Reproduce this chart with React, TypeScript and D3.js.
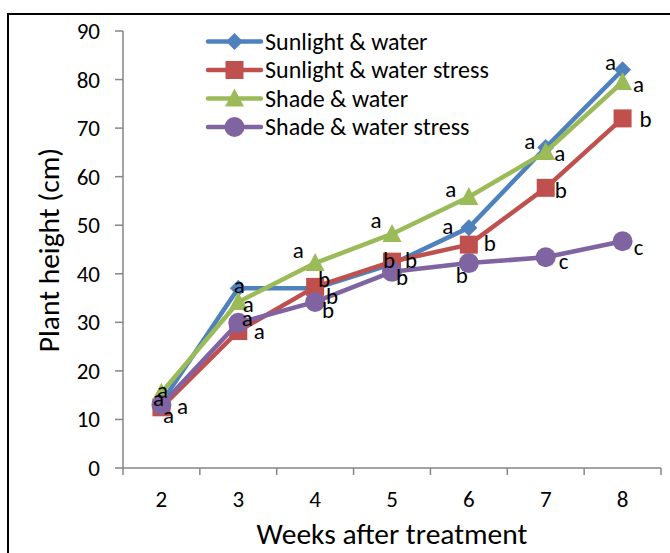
import React from 'react';
import * as d3 from 'd3';

const weeks = ['2', '3', '4', '5', '6', '7', '8'];
const yTicks = [0, 10, 20, 30, 40, 50, 60, 70, 80, 90];
const seriesNames = ['Sunlight & water', 'Sunlight & water stress', 'Shade & water', 'Shade & water stress'];
const sunlightWater = [13.5, 37, 37, 42, 49.5, 66, 82];
const sunlightStress = [12.5, 28.2, 37.3, 42.5, 46, 57.7, 72];
const shadeWater = [15.5, 34.2, 42.2, 48.2, 55.8, 65.1, 79.5];
const shadeStress = [13, 29.9, 34.2, 40.4, 42.2, 43.4, 46.7];
const sunlightWaterLetters = ['a', 'a', 'b', 'b', 'a', 'a', 'a'];
const sunlightStressLetters = ['a', 'a', 'b', 'b', 'b', 'b', 'b'];
const shadeWaterLetters = ['a', 'a', 'a', 'a', 'a', 'a', 'a'];
const shadeStressLetters = ['a', 'a', 'b', 'b', 'b', 'c', 'c'];

// label placement (styling), pixel offsets relative to the marker
const labelOffsets = [
  [[-3, -2], [1, -1], [9, -7], [19, -2], [-21, 0], [-16, -5], [-12, -6]],
  [[21, 1], [21, 2], [17, 11], [-3, 0], [21, 0], [15, 4], [23, 3]],
  [[1, -1], [10, 4], [-17, -11], [-16, -12], [-18, -6], [14, 3], [16, 4]],
  [[7, 12], [9, -3], [13, 10], [10, 7], [-7, 14], [18, 6], [16, 8]],
];

const colors = ['#4F81BD', '#C0504D', '#9BBB59', '#8064A2'];
const shapes = ['diamond', 'square', 'triangle', 'circle'];
const FONT = "Carlito, Calibri, Lato, 'Liberation Sans', sans-serif";

function Marker({ shape, x, y, color }: { shape: string; x: number; y: number; color: string }) {
  if (shape === 'diamond') {
    const h = 8.5;
    return <path d={`M${x},${y - h}L${x + h},${y}L${x},${y + h}L${x - h},${y}Z`} fill={color} />;
  }
  if (shape === 'square') {
    const h = 9;
    return <rect x={x - h} y={y - h} width={2 * h} height={2 * h} fill={color} />;
  }
  if (shape === 'triangle') {
    return <path d={`M${x},${y - 10}L${x + 9.5},${y + 8}L${x - 9.5},${y + 8}Z`} fill={color} />;
  }
  return <circle cx={x} cy={y} r={10} fill={color} />;
}

export default function App() {
  const W = 670, H = 553;
  const series = [sunlightWater, sunlightStress, shadeWater, shadeStress];
  const letters = [sunlightWaterLetters, sunlightStressLetters, shadeWaterLetters, shadeStressLetters];
  const x = d3.scaleBand<string>().domain(weeks).range([123, 661]).padding(0);
  const y = d3.scaleLinear().domain([0, 90]).range([468, 31]);
  const cx = (w: string) => (x(w) as number) + x.bandwidth() / 2;
  const line = d3.line<number>().x((_, i) => cx(weeks[i])).y((d) => y(d));
  const axisColor = '#868686';
  const boundaries = weeks.map((w) => x(w) as number).concat([661]);

  return (
    <svg width={W} height={H} style={{ position: 'absolute', left: 0, top: 0, background: '#fff' }} fontFamily={FONT}>
      <rect x={0} y={0} width={W} height={H} fill="#fff" />
      <rect x={8} y={14} width={720} height={700} fill="none" stroke="#000" strokeWidth={2} />
      {/* axes */}
      <line x1={123} x2={123} y1={y(90)} y2={y(0)} stroke={axisColor} strokeWidth={1.5} />
      <line x1={123} x2={661} y1={y(0)} y2={y(0)} stroke={axisColor} strokeWidth={1.5} />
      {yTicks.map((t) => (
        <g key={t}>
          <line x1={115} x2={123} y1={y(t)} y2={y(t)} stroke={axisColor} strokeWidth={1.5} />
          <text x={100} y={y(t) + 8} textAnchor="end" fontSize={23} fill="#000">{t}</text>
        </g>
      ))}
      {boundaries.map((b, i) => (
        <line key={i} x1={b} x2={b} y1={y(0)} y2={y(0) + 7} stroke={axisColor} strokeWidth={1.5} />
      ))}
      {weeks.map((w) => (
        <text key={w} x={cx(w)} y={507} textAnchor="middle" fontSize={23} fill="#000">{w}</text>
      ))}
      <text x={392} y={544} textAnchor="middle" fontSize={29.5} fill="#000">Weeks after treatment</text>
      <text transform={`translate(59,250) rotate(-90)`} textAnchor="middle" fontSize={29.5} fill="#000">Plant height (cm)</text>
      {/* series */}
      {series.map((s, si) => (
        <g key={si}>
          <path d={line(s) as string} fill="none" stroke={colors[si]} strokeWidth={4.5} strokeLinejoin="round" strokeLinecap="round" />
          {s.map((v, i) => (
            <Marker key={i} shape={shapes[si]} x={cx(weeks[i])} y={y(v)} color={colors[si]} />
          ))}
        </g>
      ))}
      {/* letters */}
      {series.map((s, si) =>
        s.map((v, i) => (
          <text key={`${si}-${i}`} x={cx(weeks[i]) + labelOffsets[si][i][0]} y={y(v) + labelOffsets[si][i][1] + 6}
            textAnchor="middle" fontSize={23} fill="#000">{letters[si][i]}</text>
        ))
      )}
      {/* legend */}
      {seriesNames.map((n, i) => {
        const ly = 41.5 + i * 28.5;
        return (
          <g key={n}>
            <line x1={208} x2={261} y1={ly} y2={ly} stroke={colors[i]} strokeWidth={4.5} strokeLinecap="round" />
            <Marker shape={shapes[i]} x={234.5} y={ly} color={colors[i]} />
            <text x={265} y={ly + 8} fontSize={24} fill="#000">{n}</text>
          </g>
        );
      })}
    </svg>
  );
}
